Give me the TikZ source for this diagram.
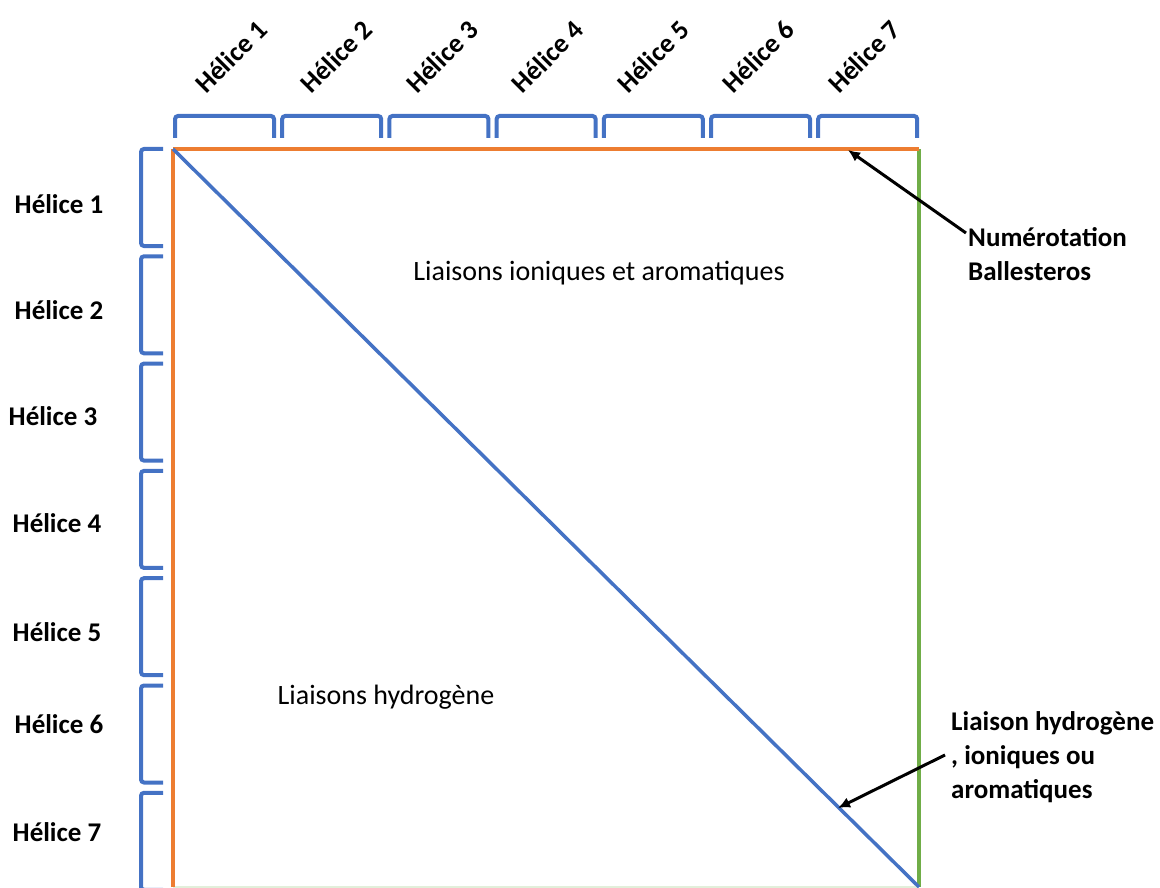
\documentclass[tikz,border=0pt]{standalone}
\usepackage{fontspec}
\setmainfont{Carlito}
\usetikzlibrary{arrows.meta}

\definecolor{orangeline}{HTML}{ED7D31}
\definecolor{greenline}{HTML}{70AD47}
\definecolor{blueline}{HTML}{4472C4}
\definecolor{paleline}{HTML}{E2EFDA}

\tikzset{
	helice/.style={font=\fontsize{27}{33}\selectfont\bfseries, inner sep=0pt},
	legende/.style={font=\fontsize{27}{34}\selectfont\bfseries, inner sep=0pt, align=left, anchor=west},
	zone/.style={font=\fontsize{28}{34}\selectfont, inner sep=0pt},
	accolade/.style={draw=blueline, line width=4pt, rounded corners=3pt},
	fleche/.style={draw=black, line width=3pt, -{Latex[length=12pt,width=11pt]}}
}

\begin{document}
\begin{tikzpicture}[x=1pt,y=-1pt]
		\useasboundingbox (0,0) rectangle (1160,888);
		
		\coordinate (hg) at (173,149);
		\coordinate (hd) at (919,149);
		\coordinate (bg) at (173,887);
		\coordinate (bd) at (919,887);
		
		\draw[paleline, line width=1.5pt] (bg) -- (bd);
		\draw[orangeline, line width=3.5pt] (bg) -- (hg);
		\draw[greenline, line width=4pt] (hd) -- (bd);
		\draw[orangeline, line width=3.5pt] (hg) -- (hd);
		\draw[blueline, line width=3.5pt] (hg) -- (bd);
		
		\foreach \i in {1,...,7} {
			\draw[accolade] ({175+107.2*(\i-1)},138) -- ({175+107.2*(\i-1)},116) -- ({274+107.2*(\i-1)},116) -- ({274+107.2*(\i-1)},138);
			\draw[accolade] (163,{149+107.3*(\i-1)}) -- (141,{149+107.3*(\i-1)}) -- (141,{246+107.3*(\i-1)}) -- (163,{246+107.3*(\i-1)});
			\node[helice, rotate=45] (haut\i) at ({231+105.5*(\i-1)},57) {Hélice \i};
		}
		
		\foreach \i/\x/\y in {1/59/204, 2/59/310, 3/53/416, 4/57/523, 5/57/632, 6/59/724, 7/57/832}
			\node[helice] (gauche\i) at (\x,\y) {Hélice \i};
		
		\node[zone] (ionique) at (599,273) {Liaisons ioniques et aromatiques};
		\node[zone] (hydro) at (386,697) {Liaisons hydrogène};
		
		\node[legende] (numero) at (968,254) {Numérotation\\Ballesteros};
		\node[legende] (mixte) at (951,757) {Liaison hydrogène\\, ioniques ou\\aromatiques};
		
		\coordinate (numdep) at (966,233);
		\coordinate (numarr) at (848,150);
		\coordinate (mixdep) at (945,755);
		\coordinate (mixarr) at (838,808);
		
		\draw[fleche] (numdep) -- (numarr);
		\draw[fleche] (mixdep) -- (mixarr);
		\end{tikzpicture}
\end{document}
